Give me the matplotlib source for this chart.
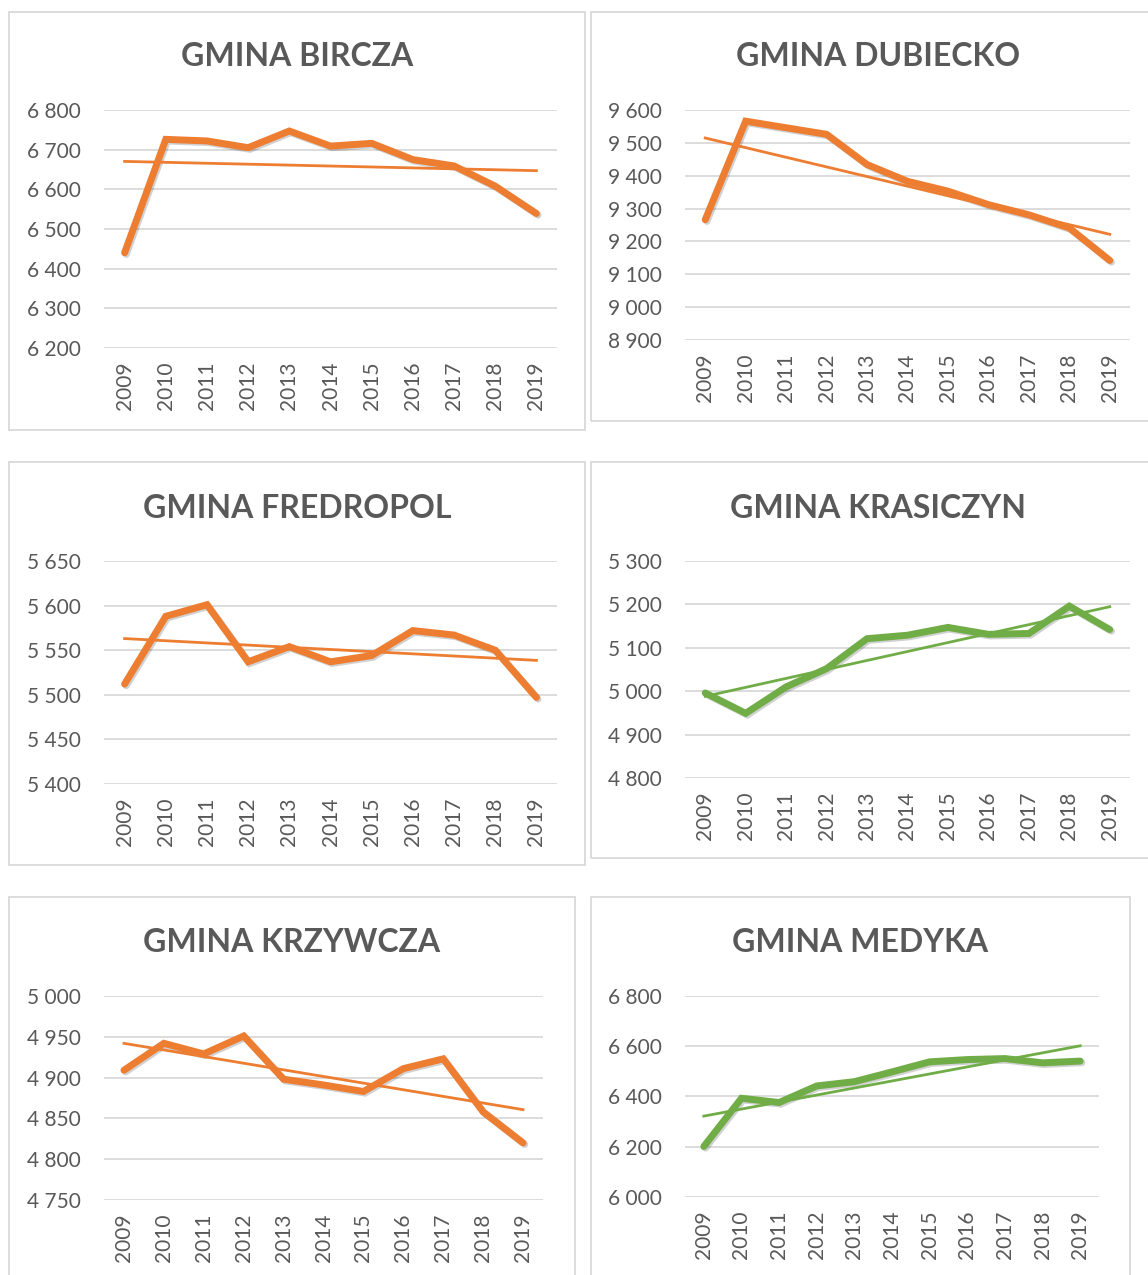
import numpy as np
import matplotlib.pyplot as plt
import matplotlib.patheffects as pe
from matplotlib.patches import Rectangle
from matplotlib.ticker import FuncFormatter

plt.rcParams['font.family'] = ['Lato', 'DejaVu Sans']

years = [str(y) for y in range(2009, 2020)]

bircza = [6440, 6726, 6722, 6705, 6747, 6709, 6716, 6675, 6659, 6608, 6539]
dubiecko = [9266, 9566, 9546, 9526, 9434, 9383, 9353, 9312, 9281, 9241, 9142]
fredropol = [5512, 5588, 5601, 5537, 5554, 5537, 5544, 5572, 5567, 5550, 5497]
krasiczyn = [4996, 4949, 5010, 5052, 5121, 5129, 5147, 5131, 5133, 5196, 5142]
krzywcza = [4909, 4942, 4929, 4951, 4898, 4891, 4883, 4911, 4923, 4858, 4820]
medyka = [6201, 6393, 6376, 6442, 6459, 6498, 6538, 6547, 6551, 6534, 6541]

titles = ["GMINA BIRCZA", "GMINA DUBIECKO", "GMINA FREDROPOL",
          "GMINA KRASICZYN", "GMINA KRZYWCZA", "GMINA MEDYKA"]
series = [bircza, dubiecko, fredropol, krasiczyn, krzywcza, medyka]
y_ranges = [(6200, 6800, 100), (8900, 9600, 100), (5400, 5650, 50),
            (4800, 5300, 100), (4750, 5000, 50), (6000, 6800, 200)]

ORANGE = '#ED7D31'
GREEN = '#70AD47'
colors = [ORANGE, ORANGE, ORANGE, GREEN, ORANGE, GREEN]

W, H = 1148, 1275
fig = plt.figure(figsize=(W / 100, H / 100), dpi=100)


def rect(x0, y0, x1, y1):
    # pixel box -> figure fraction
    return [x0 / W, 1 - y1 / H, (x1 - x0) / W, (y1 - y0) / H]


# panel frames (x0, y0, x1, y1) in pixels
frames = [(9, 12, 585, 430), (591, 12, 1165, 421),
          (9, 462, 585, 865), (591, 462, 1165, 858),
          (9, 897, 575, 1290), (591, 897, 1130, 1290)]
# plot areas
areas = [(104, 110, 557, 348), (685, 110, 1130, 340),
         (104, 561, 557, 784), (685, 561, 1130, 778),
         (104, 996, 543, 1200), (685, 996, 1099, 1197)]
title_y = [57, 57, 508, 508, 943, 943]

space_fmt = FuncFormatter(lambda v, p: f"{int(v):,}".replace(",", " "))
x = np.arange(len(years))

for i in range(6):
    fx0, fy0, fx1, fy1 = frames[i]
    fig.patches.append(Rectangle((fx0 / W, 1 - fy1 / H), (fx1 - fx0) / W, (fy1 - fy0) / H,
                                 transform=fig.transFigure, fill=False,
                                 edgecolor='#d9d9d9', linewidth=1.3))
    fig.text((fx0 + fx1) / 2 / W, 1 - title_y[i] / H, titles[i], ha='center', va='center',
             fontsize=23, fontweight='bold', color='#595959')

    ax = fig.add_axes(rect(*areas[i]))
    lo, hi, step = y_ranges[i]
    ax.set_ylim(lo, hi)
    ax.set_xlim(-0.5, len(years) - 0.5)
    ax.set_yticks(np.arange(lo, hi + step / 2, step))
    ax.yaxis.set_major_formatter(space_fmt)
    ax.set_xticks(x)
    ax.set_xticklabels(years, rotation=90)
    ax.grid(axis='y', color='#d9d9d9', linewidth=1.3)
    ax.set_axisbelow(True)
    for s in ax.spines.values():
        s.set_visible(False)
    ax.tick_params(axis='y', length=0, pad=17, labelsize=15, labelcolor='#595959')
    ax.tick_params(axis='x', length=0, pad=10, labelsize=15, labelcolor='#595959')

    vals = np.array(series[i], dtype=float)
    ax.plot(x, vals, color=colors[i], linewidth=5, solid_capstyle='round',
            solid_joinstyle='miter', clip_on=False,
            path_effects=[pe.SimpleLineShadow(offset=(1.2, -1.2), shadow_color='black', alpha=0.18),
                          pe.Normal()])
    k, b = np.polyfit(x, vals, 1)
    ax.plot(x, k * x + b, color=colors[i], linewidth=2, clip_on=False)

fig.savefig('out.png', dpi=100, facecolor='white')
